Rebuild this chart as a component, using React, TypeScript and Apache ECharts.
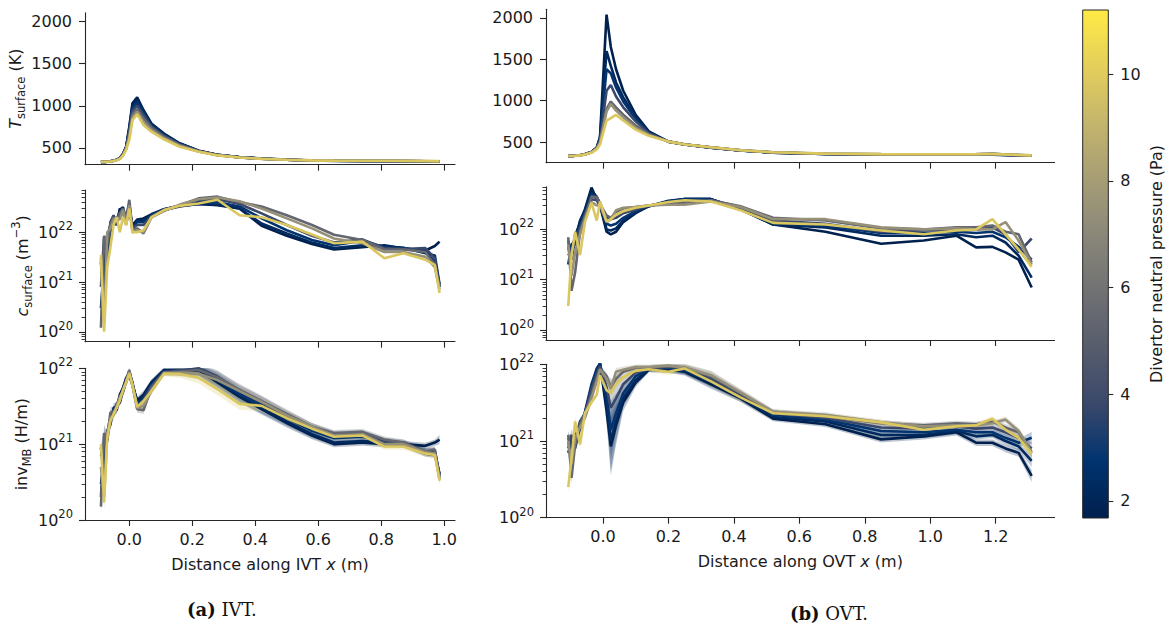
import React, { useEffect, useRef } from 'react';
import * as echarts from 'echarts';

// ---------- colour scale (divertor neutral pressure, Pa) ----------
const pressures = [1.7, 2.2, 2.8, 3.8, 5.4, 7.4, 9.8];
const cbarMin = 1.68;
const cbarMax = 11.2;
const cbarTicks = [2, 4, 6, 8, 10];
const cividisStops = ['#00204D', '#00336F', '#39486B', '#575C6D', '#707173', '#8A8779', '#A69D75', '#C4B56C', '#E4CF5B', '#FFEA46'];

// ---------- x grids (m) and tick labels ----------
const ivtX = [-0.09, -0.08, -0.07, -0.06, -0.05, -0.04, -0.03, -0.02, -0.01, 0.0, 0.01, 0.025, 0.045, 0.07, 0.11, 0.16, 0.22, 0.28, 0.35, 0.42, 0.5, 0.58, 0.65, 0.74, 0.81, 0.87, 0.94, 0.97, 0.985];
const ovtX = [-0.106, -0.096, -0.085, -0.07, -0.055, -0.035, -0.019, -0.009, 0.011, 0.024, 0.04, 0.062, 0.1, 0.14, 0.2, 0.25, 0.33, 0.42, 0.52, 0.68, 0.85, 0.98, 1.08, 1.14, 1.19, 1.23, 1.27, 1.31];
const ivtXTicks = [0, 0.2, 0.4, 0.6, 0.8, 1.0];
const ovtXTicks = [0, 0.2, 0.4, 0.6, 0.8, 1.0, 1.2];
const tempTicks = [500, 1000, 1500, 2000];
const logTicks = [1e20, 1e21, 1e22];

// ---------- IVT: surface temperature (K), one row per pressure ----------
const ivtTemp = [
  [335, 336, 338, 342, 350, 362, 380, 430, 515, 750, 1030, 1100, 950, 790, 670, 555, 468, 420, 392, 375, 362, 352, 348, 346, 345, 344, 342, 341, 341],
  [335, 336, 338, 342, 350, 362, 380, 428, 510, 735, 1000, 1075, 935, 780, 665, 552, 467, 420, 391, 374, 361, 352, 348, 346, 345, 344, 342, 341, 341],
  [335, 336, 338, 342, 349, 361, 378, 425, 505, 715, 970, 1040, 915, 770, 655, 548, 465, 418, 390, 373, 360, 351, 347, 345, 344, 343, 341, 340, 340],
  [335, 336, 338, 342, 349, 360, 377, 422, 500, 690, 940, 1000, 890, 755, 645, 542, 463, 417, 389, 373, 360, 352, 348, 346, 345, 344, 342, 341, 341],
  [335, 336, 338, 341, 348, 359, 375, 418, 495, 660, 900, 960, 850, 740, 630, 535, 462, 416, 389, 372, 360, 352, 348, 347, 346, 345, 343, 342, 342],
  [335, 336, 337, 341, 347, 357, 372, 414, 488, 630, 860, 930, 810, 715, 615, 525, 459, 414, 388, 372, 360, 353, 349, 348, 347, 346, 344, 343, 343],
  [335, 336, 337, 340, 346, 355, 370, 410, 480, 595, 830, 900, 772, 693, 603, 515, 456, 412, 387, 371, 360, 353, 350, 349, 348, 347, 345, 344, 344],
];

// ---------- IVT: surface concentration (1e21 m^-3) ----------
const ivtConc = [
  [1.6, 1.2, 3.0, 12, 18, 14, 30, 25, 16, 28, 14, 18, 19, 23, 29, 34, 37, 35, 30, 13.5, 8.5, 5.8, 4.5, 5.0, 5.5, 4.7, 4.3, 5.3, 6.5],
  [0.3, 2.0, 8.0, 10, 20, 15, 28, 32, 18, 30, 13, 17, 17, 22, 28, 33, 37, 36, 30, 15, 9.5, 6.2, 4.8, 5.5, 5.2, 4.9, 3.8, 3.4, 0.9],
  [2.5, 0.4, 8.0, 14, 16, 20, 22, 28, 15, 32, 12, 16, 16, 22, 29, 34, 40, 40, 33, 19, 11, 7.0, 5.5, 6.8, 5.0, 4.8, 4.2, 2.5, 0.8],
  [0.8, 8.0, 3.0, 16, 22, 14, 25, 26, 20, 38, 12, 14, 14, 21, 28, 34, 44, 46, 37, 24, 14, 8.5, 6.2, 7.2, 4.8, 4.6, 4.8, 3.0, 0.8],
  [0.12, 8.5, 6.0, 14, 20, 17, 24, 30, 18, 45, 11, 12, 9.5, 20, 27, 35, 48, 52, 40, 33, 22, 14, 8.9, 7.0, 4.5, 4.5, 4.0, 2.2, 0.8],
  [3.0, 0.15, 10, 12, 18, 20, 18, 28, 14, 35, 10, 11, 10, 20, 27, 36, 46, 50, 42, 30, 19, 12, 7.5, 6.0, 4.0, 4.0, 3.2, 2.0, 0.7],
  [3.5, 0.1, 2.0, 5.0, 14, 20, 10, 20, 14, 30, 10, 10, 11, 20, 28, 34, 38, 45, 22, 20, 14, 9.0, 6.0, 6.5, 3.0, 3.8, 2.8, 2.2, 0.6],
];

// ---------- IVT: inventory (1e21 H/m) and its band half-width factor ----------
const ivtInv = [
  [0.7, 0.9, 1.3, 2.2, 2.6, 3.0, 4.5, 5.5, 7.5, 8.0, 6.0, 3.8, 4.5, 6.5, 9.5, 9.2, 9.5, 6.5, 4.2, 2.9, 1.9, 1.3, 1.0, 1.05, 1.0, 1.0, 0.95, 1.05, 1.15],
  [0.3, 0.6, 1.4, 2.0, 2.8, 2.8, 4.2, 5.0, 7.0, 8.5, 6.2, 3.5, 4.2, 6.2, 9.3, 9.0, 9.4, 6.8, 4.3, 3.0, 2.0, 1.35, 1.05, 1.1, 1.05, 1.0, 0.75, 0.72, 0.4],
  [0.9, 0.4, 1.5, 1.8, 3.0, 3.2, 3.6, 5.5, 6.5, 9.0, 6.5, 3.4, 4.0, 6.0, 9.2, 9.2, 9.8, 7.2, 4.6, 3.3, 2.2, 1.5, 1.2, 1.25, 1.05, 1.0, 0.8, 0.8, 0.4],
  [0.2, 1.3, 1.1, 2.3, 2.5, 3.4, 3.5, 5.0, 7.2, 9.2, 6.3, 3.2, 3.8, 5.8, 9.0, 9.3, 10, 7.8, 5.0, 3.6, 2.4, 1.7, 1.35, 1.4, 1.1, 1.05, 0.8, 0.82, 0.38],
  [0.15, 1.4, 1.2, 2.6, 2.7, 3.0, 4.0, 4.8, 6.8, 9.5, 6.0, 2.9, 2.8, 5.5, 8.8, 9.0, 9.5, 7.6, 5.2, 3.7, 2.5, 1.7, 1.4, 1.45, 1.15, 1.05, 0.8, 0.85, 0.36],
  [0.5, 0.2, 1.4, 2.2, 2.4, 3.2, 4.2, 5.0, 6.6, 9.0, 6.0, 3.0, 3.2, 5.0, 8.6, 8.8, 8.5, 7.0, 5.0, 3.6, 2.4, 1.7, 1.3, 1.35, 1.0, 1.0, 0.78, 0.75, 0.34],
  [1.0, 0.17, 1.2, 2.0, 2.5, 3.0, 3.8, 5.2, 6.5, 8.5, 6.0, 3.1, 3.7, 5.0, 8.5, 8.4, 7.5, 5.3, 3.4, 3.2, 2.2, 1.6, 1.25, 1.3, 0.93, 0.93, 0.75, 0.72, 0.33],
];
const ivtInvSpread = [1.3, 1.3, 1.25, 1.2, 1.15, 1.12, 1.1, 1.1, 1.1, 1.1, 1.1, 1.12, 1.12, 1.1, 1.08, 1.12, 1.18, 1.2, 1.2, 1.18, 1.15, 1.12, 1.1, 1.1, 1.1, 1.1, 1.1, 1.1, 1.15];

// ---------- OVT: surface temperature (K) ----------
const ovtTemp = [
  [330, 331, 334, 340, 352, 380, 430, 560, 2040, 1650, 1380, 1120, 830, 630, 505, 470, 432, 398, 372, 355, 348, 346, 346, 347, 348, 344, 340, 335],
  [330, 331, 334, 340, 352, 380, 430, 550, 1600, 1420, 1220, 1040, 800, 620, 505, 470, 432, 398, 372, 355, 348, 346, 346, 347, 348, 344, 340, 335],
  [330, 331, 334, 340, 352, 380, 430, 540, 1380, 1330, 1160, 990, 780, 612, 505, 470, 432, 398, 372, 356, 349, 347, 347, 348, 350, 345, 341, 336],
  [330, 331, 334, 340, 352, 380, 428, 520, 1120, 1190, 1050, 920, 750, 605, 505, 470, 433, 399, 373, 357, 350, 348, 348, 350, 352, 346, 342, 337],
  [330, 331, 334, 340, 352, 378, 425, 500, 900, 990, 920, 830, 700, 595, 505, 470, 435, 400, 375, 358, 352, 350, 350, 352, 362, 348, 343, 338],
  [330, 331, 334, 340, 350, 375, 420, 490, 870, 960, 880, 800, 670, 585, 508, 472, 437, 402, 377, 360, 354, 352, 352, 354, 358, 350, 344, 339],
  [330, 331, 334, 339, 348, 370, 410, 470, 760, 790, 827, 760, 650, 575, 505, 470, 436, 401, 376, 360, 354, 352, 352, 353, 354, 349, 344, 339],
];

// ---------- OVT: surface concentration (1e21 m^-3) ----------
const ovtConc = [
  [4.5, 2.5, 7, 14, 25, 68, 40, 30, 9, 8, 9, 14, 21, 29, 36, 40, 40, 25, 12.5, 9.0, 5.2, 6.0, 7.5, 4.4, 4.5, 3.5, 2.5, 0.7],
  [2.0, 5.0, 6, 15, 24, 58, 45, 32, 10, 9.5, 10.5, 15, 22, 29, 37, 40, 40, 25, 12.5, 11, 7.5, 7.5, 8, 7, 7.5, 5.5, 3.0, 1.1],
  [6.0, 3.0, 8, 12, 22, 50, 42, 34, 13, 12, 13, 17, 23, 29, 36, 40, 40, 26, 13.5, 12, 8.5, 8.5, 9, 8.5, 9, 7, 4.5, 2.5],
  [3.0, 4.0, 5, 11, 20, 40, 38, 30, 17, 16, 17, 21, 25, 30, 34, 37, 38, 28, 15, 13, 9, 9.5, 10, 10, 11, 8, 3.5, 6.6],
  [7.0, 0.6, 1.4, 9, 18, 45, 44, 32, 19, 17, 22, 26, 28, 30, 32, 34, 38, 29, 17, 15, 10.5, 10, 11, 11, 12, 9, 8, 2.2],
  [5.0, 1.2, 3.5, 8, 16, 35, 30, 30, 14, 16, 24, 27, 28, 30, 31, 31, 36, 28, 16, 16, 11, 10, 10.5, 10, 10, 14, 6, 2.0],
  [0.3, 3.0, 9.0, 3.1, 14, 34, 15, 36, 14.5, 16, 19.5, 23, 27, 30, 35, 38, 36, 24, 13.5, 12.5, 9.5, 8, 9.5, 10, 16, 8, 4, 1.8],
];

// ---------- OVT: inventory (1e21 H/m) and band half-width factors ----------
const ovtInv = [
  [0.95, 0.8, 1.0, 1.8, 2.2, 4.5, 8.0, 10.2, 2.5, 0.85, 1.6, 3.2, 5.8, 8.5, 8.5, 8.0, 5.5, 3.6, 1.95, 1.65, 1.05, 1.15, 1.3, 0.95, 0.95, 0.8, 0.7, 0.35],
  [0.7, 1.0, 0.9, 1.6, 2.3, 5.0, 8.5, 10.2, 3.0, 1.0, 1.8, 3.6, 6.2, 8.6, 8.7, 8.2, 5.8, 3.7, 2.05, 1.8, 1.2, 1.2, 1.35, 1.15, 1.2, 1.0, 0.85, 0.55],
  [1.1, 0.9, 1.2, 1.4, 2.4, 5.5, 8.8, 10.2, 4.0, 1.4, 2.3, 4.2, 7.0, 8.7, 8.9, 8.4, 6.0, 3.8, 2.2, 1.9, 1.35, 1.3, 1.4, 1.3, 1.3, 1.1, 0.95, 1.1],
  [0.8, 1.2, 0.8, 1.5, 2.2, 4.8, 7.5, 9.5, 5.0, 2.7, 3.6, 5.5, 7.8, 8.8, 9.2, 8.8, 6.5, 4.0, 2.3, 2.0, 1.5, 1.45, 1.55, 1.45, 1.5, 1.3, 1.1, 0.8],
  [1.2, 0.33, 0.9, 1.7, 2.3, 4.0, 6.5, 8.8, 7.0, 5.0, 6.5, 8.0, 9.0, 9.0, 9.5, 9.0, 7.0, 4.2, 2.4, 2.1, 1.7, 1.6, 1.7, 1.65, 1.8, 1.5, 1.3, 0.7],
  [1.0, 0.5, 1.1, 1.5, 2.0, 3.6, 6.0, 8.5, 6.5, 4.8, 8.0, 8.5, 9.2, 9.2, 9.6, 9.0, 7.2, 4.3, 2.4, 2.2, 1.75, 1.55, 1.6, 1.6, 1.7, 1.9, 1.35, 0.72],
  [0.25, 0.6, 1.8, 0.9, 2.3, 3.2, 4.0, 7.2, 4.6, 4.2, 5.5, 6.8, 8.2, 8.6, 8.0, 8.8, 6.0, 3.7, 2.3, 2.1, 1.75, 1.4, 1.55, 1.6, 1.95, 1.4, 1.1, 0.68],
];
const ovtInvSpreadDark = [1.2, 1.2, 1.15, 1.12, 1.1, 1.08, 1.08, 1.05, 1.5, 2.4, 1.8, 1.3, 1.15, 1.08, 1.1, 1.12, 1.15, 1.12, 1.08, 1.08, 1.1, 1.1, 1.1, 1.1, 1.1, 1.12, 1.12, 1.2];
const ovtInvSpreadLight = [1.2, 1.2, 1.15, 1.12, 1.1, 1.08, 1.08, 1.05, 1.12, 1.15, 1.12, 1.1, 1.08, 1.08, 1.1, 1.12, 1.15, 1.12, 1.08, 1.08, 1.08, 1.08, 1.08, 1.08, 1.08, 1.1, 1.1, 1.15];

// ---------- styling ----------
const FONT = 'DejaVu Sans';
const AXIS = '#262626';
const TEXT = '#1a1a1a';
const LINE_W = 2.6;

function hexToRgb(h: string) {
  const n = parseInt(h.slice(1), 16);
  return [(n >> 16) & 255, (n >> 8) & 255, n & 255];
}
function cividis(t: number, alpha = 1) {
  const tt = Math.min(1, Math.max(0, t));
  const pos = tt * (cividisStops.length - 1);
  const i = Math.min(cividisStops.length - 2, Math.floor(pos));
  const f = pos - i;
  const a = hexToRgb(cividisStops[i]);
  const b = hexToRgb(cividisStops[i + 1]);
  const c = a.map((v, k) => Math.round(v + (b[k] - v) * f));
  return `rgba(${c[0]},${c[1]},${c[2]},${alpha})`;
}
const colorFor = (p: number, alpha = 1) => cividis((p - cbarMin) / (cbarMax - cbarMin), alpha);

function minorLogTicks(lo: number, hi: number) {
  const out: number[] = [];
  for (let e = Math.floor(Math.log10(lo)); e <= Math.ceil(Math.log10(hi)); e++) {
    for (let m = 2; m <= 9; m++) {
      const v = m * Math.pow(10, e);
      if (v >= lo && v <= hi) out.push(v);
    }
  }
  return out;
}

const nameRich = {
  n: { fontFamily: FONT, fontSize: 16, color: TEXT, lineHeight: 24, verticalAlign: 'middle' },
  i: { fontFamily: FONT, fontSize: 16, fontStyle: 'italic', color: TEXT, lineHeight: 24, verticalAlign: 'middle' },
  s: { fontFamily: FONT, fontSize: 11.5, color: TEXT, lineHeight: 12, verticalAlign: 'bottom' },
  p: { fontFamily: FONT, fontSize: 11.5, color: TEXT, lineHeight: 12, verticalAlign: 'top' },
};
const logLabelRich = {
  b: { fontFamily: FONT, fontSize: 16, color: TEXT, lineHeight: 24, verticalAlign: 'middle' },
  p: { fontFamily: FONT, fontSize: 11.5, color: TEXT, lineHeight: 12, verticalAlign: 'top' },
};

type Panel = {
  grid: { left: number; top: number; width: number; height: number };
  x: number[];
  xMin: number; xMax: number; xTicks: number[];
  sets: number[][];
  scale: number;
  log: boolean;
  yMin: number; yMax: number;
  bottom: boolean;
  yName?: string; yNameGap?: number;
  xName?: string;
  spread?: (k: number) => number[];
};

const LOG_C_MIN = Math.pow(10, 19.8);
const LOG_C_MAX = Math.pow(10, 22.85);

const panels: Panel[] = [
  { grid: { left: 85, top: 12.7, width: 370, height: 152 }, x: ivtX, xMin: -0.1406, xMax: 1.034, xTicks: ivtXTicks, sets: ivtTemp, scale: 1, log: false, yMin: 302, yMax: 2102, bottom: false, yName: '{i|T}{s|surface}{n| (K)}', yNameGap: 54 },
  { grid: { left: 85, top: 190, width: 370, height: 151.7 }, x: ivtX, xMin: -0.1406, xMax: 1.034, xTicks: ivtXTicks, sets: ivtConc, scale: 1e21, log: true, yMin: LOG_C_MIN, yMax: LOG_C_MAX, bottom: false, yName: '{i|c}{s|surface}{n| (m}{p|−3}{n|)}', yNameGap: 51 },
  { grid: { left: 85, top: 368.3, width: 370, height: 151.7 }, x: ivtX, xMin: -0.1406, xMax: 1.034, xTicks: ivtXTicks, sets: ivtInv, scale: 1e21, log: true, yMin: 1e20, yMax: 1e22, bottom: true, yName: '{n|inv}{s|MB}{n| (H/m)}', yNameGap: 52, xName: '{n|Distance along IVT }{i|x}{n| (m)}', spread: () => ivtInvSpread },
  { grid: { left: 546, top: 9.3, width: 508.6, height: 153.4 }, x: ovtX, xMin: -0.174, xMax: 1.38, xTicks: ovtXTicks, sets: ovtTemp, scale: 1, log: false, yMin: 250, yMax: 2105, bottom: false },
  { grid: { left: 546, top: 186.7, width: 508.6, height: 153.3 }, x: ovtX, xMin: -0.174, xMax: 1.38, xTicks: ovtXTicks, sets: ovtConc, scale: 1e21, log: true, yMin: LOG_C_MIN, yMax: LOG_C_MAX, bottom: false },
  { grid: { left: 546, top: 364.3, width: 508.6, height: 153.4 }, x: ovtX, xMin: -0.174, xMax: 1.38, xTicks: ovtXTicks, sets: ovtInv, scale: 1e21, log: true, yMin: 1e20, yMax: 1e22, bottom: true, xName: '{n|Distance along OVT }{i|x}{n| (m)}', spread: (k) => (k < 4 ? ovtInvSpreadDark : ovtInvSpreadLight) },
];

function buildOption() {
  const grid: any[] = [];
  const xAxis: any[] = [];
  const yAxis: any[] = [];
  const series: any[] = [];

  panels.forEach((pn, g) => {
    grid.push({ ...pn.grid, containLabel: false });
    xAxis.push({
      type: 'value', gridIndex: g, min: pn.xMin, max: pn.xMax,
      axisLine: { show: true, onZero: false, lineStyle: { color: AXIS, width: 1.1 } },
      axisTick: { show: true, length: 6, customValues: pn.xTicks, lineStyle: { color: AXIS, width: 1.1 } },
      axisLabel: { show: pn.bottom, customValues: pn.xTicks, formatter: (v: number) => v.toFixed(1), margin: 11, fontSize: 16, fontFamily: FONT, color: TEXT },
      splitLine: { show: false },
      name: pn.xName, nameLocation: 'middle', nameGap: 32,
      nameTextStyle: { fontFamily: FONT, fontSize: 16, color: TEXT, rich: nameRich },
    });
    const yIdx = yAxis.length;
    yAxis.push({
      type: pn.log ? 'log' : 'value', logBase: 10, gridIndex: g, position: 'left', min: pn.yMin, max: pn.yMax,
      axisLine: { show: true, onZero: false, lineStyle: { color: AXIS, width: 1.1 } },
      axisTick: { show: true, length: 6, customValues: pn.log ? logTicks : tempTicks, lineStyle: { color: AXIS, width: 1.1 } },
      axisLabel: pn.log
        ? { customValues: logTicks, margin: 12, formatter: (v: number) => `{b|10}{p|${Math.round(Math.log10(v))}}`, rich: logLabelRich, fontFamily: FONT, color: TEXT }
        : { customValues: tempTicks, margin: 13, fontSize: 16, fontFamily: FONT, color: TEXT, formatter: (v: number) => String(v) },
      splitLine: { show: false }, minorTick: { show: false },
      name: pn.yName, nameLocation: 'middle', nameRotate: 90, nameGap: pn.yNameGap,
      nameTextStyle: { fontFamily: FONT, fontSize: 16, color: TEXT, rich: nameRich },
    });
    if (pn.log) {
      yAxis.push({
        type: 'log', logBase: 10, gridIndex: g, position: 'left', offset: 0, min: pn.yMin, max: pn.yMax,
        axisLine: { show: false, onZero: false },
        axisTick: { show: true, length: 3.5, customValues: minorLogTicks(pn.yMin, pn.yMax), lineStyle: { color: AXIS, width: 0.9 } },
        axisLabel: { show: false }, splitLine: { show: false },
      });
    }

    // uncertainty bands (behind the lines)
    if (pn.spread) {
      pn.sets.forEach((vals, k) => {
        const sp = pn.spread!(k);
        const fill = colorFor(pressures[k], 0.26);
        series.push({
          type: 'custom', xAxisIndex: g, yAxisIndex: yIdx, clip: true, silent: true, z: 1,
          data: [[pn.x[0], vals[0] * pn.scale]],
          renderItem: (_params: any, api: any) => {
            const up = pn.x.map((xv, i) => api.coord([xv, vals[i] * pn.scale * sp[i]]));
            const lo = pn.x.map((xv, i) => api.coord([xv, (vals[i] * pn.scale) / sp[i]])).reverse();
            return { type: 'polygon', shape: { points: up.concat(lo) }, style: { fill, stroke: 'none' } };
          },
        });
      });
    }
    pn.sets.forEach((vals, k) => {
      const c = colorFor(pressures[k]);
      series.push({
        type: 'line', xAxisIndex: g, yAxisIndex: yIdx, silent: true, z: 3, clip: true,
        showSymbol: false, symbol: 'none',
        data: pn.x.map((xv, i) => [xv, vals[i] * pn.scale]),
        lineStyle: { color: c, width: LINE_W }, itemStyle: { color: c },
      });
    });
  });

  // colour bar
  const cg = grid.length;
  grid.push({ left: 1082.7, top: 10, width: 25.6, height: 508 });
  xAxis.push({ type: 'value', gridIndex: cg, min: 0, max: 1, show: false });
  const cy = yAxis.length;
  yAxis.push({
    type: 'value', gridIndex: cg, position: 'right', min: cbarMin, max: cbarMax,
    axisLine: { show: false, onZero: false },
    axisTick: { show: true, length: 5, customValues: cbarTicks, lineStyle: { color: AXIS, width: 1.1 } },
    axisLabel: { customValues: cbarTicks, margin: 12, fontSize: 16, fontFamily: FONT, color: TEXT },
    splitLine: { show: false },
    name: 'Divertor neutral pressure (Pa)', nameLocation: 'middle', nameRotate: 90, nameGap: 40,
    nameTextStyle: { fontFamily: FONT, fontSize: 16, color: TEXT },
  });
  // gradient from top (high pressure) to bottom (low pressure), offsets ascending
  const gradStops = cividisStops.slice().reverse().map((c, i) => ({ offset: i / (cividisStops.length - 1), color: c }));
  series.push({
    type: 'custom', xAxisIndex: cg, yAxisIndex: cy, silent: true,
    data: [[0, cbarMin]],
    renderItem: (_p: any, api: any) => {
      const p0 = api.coord([0, cbarMax]);
      const p1 = api.coord([1, cbarMin]);
      return {
        type: 'rect',
        shape: { x: p0[0], y: p0[1], width: p1[0] - p0[0], height: p1[1] - p0[1] },
        style: {
          fill: { type: 'linear', x: 0, y: 0, x2: 0, y2: 1, colorStops: gradStops, global: false },
          stroke: AXIS, lineWidth: 1,
        },
      };
    },
  });

  const capStyle = { fontFamily: 'DejaVu Serif', fontSize: 18, fill: '#111' };
  return {
    animation: false,
    backgroundColor: '#ffffff',
    grid, xAxis, yAxis, series,
    graphic: [
      { type: 'text', left: 187, top: 600, style: { ...capStyle, text: '{b|(a)} IVT.', rich: { b: { fontFamily: 'DejaVu Serif', fontSize: 18, fontWeight: 'bold', fill: '#111' } } } },
      { type: 'text', left: 790, top: 604, style: { ...capStyle, text: '{b|(b)} OVT.', rich: { b: { fontFamily: 'DejaVu Serif', fontSize: 18, fontWeight: 'bold', fill: '#111' } } } },
    ],
  };
}

export default function App() {
  const ref = useRef<HTMLDivElement>(null);
  useEffect(() => {
    if (!ref.current) return;
    const chart = echarts.init(ref.current, null, { renderer: 'svg' });
    chart.setOption(buildOption() as any);
    return () => chart.dispose();
  }, []);
  return <div ref={ref} style={{ position: 'absolute', left: 0, top: 0, width: 1171, height: 632, background: '#fff' }} />;
}
